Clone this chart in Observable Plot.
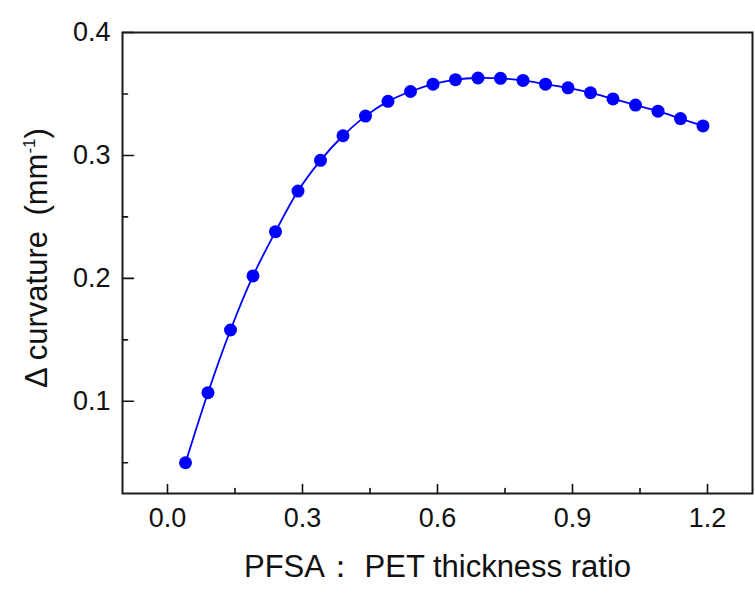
<!DOCTYPE html>
<html>
<head>
<meta charset="utf-8">
<script src="https://cdn.jsdelivr.net/npm/d3@7"></script>
<script src="https://cdn.jsdelivr.net/npm/@observablehq/plot@0.6"></script>
<style>
  html, body { margin: 0; padding: 0; background: #fff; }
</style>
</head>
<body>
<div id="chart"></div>
<script>
// ---- data ----
const ratio = [0.04, 0.09, 0.14, 0.19, 0.24, 0.29, 0.34, 0.39, 0.44, 0.49, 0.54, 0.59,
               0.64, 0.69, 0.74, 0.79, 0.84, 0.89, 0.94, 0.99, 1.04, 1.09, 1.14, 1.19];
const curvature = [0.050, 0.107, 0.158, 0.202, 0.238, 0.271, 0.296, 0.316, 0.332, 0.344, 0.352, 0.358,
                   0.3616, 0.363, 0.3627, 0.361, 0.358, 0.355, 0.351, 0.346, 0.341, 0.336, 0.330, 0.324];
const xMajorTicks = [0.0, 0.3, 0.6, 0.9, 1.2];
const xMinorTicks = [0.15, 0.45, 0.75, 1.05];
const yMajorTicks = [0.1, 0.2, 0.3, 0.4];
const yMinorTicks = [0.05, 0.15, 0.25, 0.35];
const xDomain = [-0.1, 1.3];
const yDomain = [0.025, 0.4];
const xTitle = "PFSA\uFF1A PET thickness ratio";
const yTitle = "\u0394 curvature\u2002(mm^-1)";

const data = ratio.map((r, i) => ({ratio: r, curvature: curvature[i]}));

const tickShape = {
  draw(context, l) { context.moveTo(0, 0); context.lineTo(0, -l); }
};
const ink = "#111";
const blue = "#0000ff";
const font = "Arial, 'Liberation Sans', sans-serif";

const chart = Plot.plot({
  width: 755,
  height: 594,
  marginLeft: 122,
  marginRight: 3,
  marginTop: 32,
  marginBottom: 101,
  style: {fontFamily: font, fontSize: "27px", color: ink, background: "#fff"},
  x: {domain: xDomain},
  y: {domain: yDomain},
  marks: [
    Plot.axisX(xMajorTicks, {tickSize: 0, tickPadding: 14, tickFormat: d3.format(".1f"), label: null, fill: ink, fontSize: 27}),
    Plot.axisY(yMajorTicks, {tickSize: 0, tickPadding: 12, tickFormat: d3.format(".1f"), label: null, fill: ink, fontSize: 27}),
    // inward ticks
    Plot.vector(xMajorTicks, {x: d => d, frameAnchor: "bottom", length: 9, rotate: 0, anchor: "start", shape: tickShape, stroke: ink, strokeWidth: 1.6, fill: "none"}),
    Plot.vector(xMinorTicks, {x: d => d, frameAnchor: "bottom", length: 5, rotate: 0, anchor: "start", shape: tickShape, stroke: ink, strokeWidth: 1.6, fill: "none"}),
    Plot.vector(yMajorTicks, {y: d => d, frameAnchor: "left", length: 11, rotate: 90, anchor: "start", shape: tickShape, stroke: ink, strokeWidth: 1.6, fill: "none"}),
    Plot.vector(yMinorTicks, {y: d => d, frameAnchor: "left", length: 5, rotate: 90, anchor: "start", shape: tickShape, stroke: ink, strokeWidth: 1.6, fill: "none"}),
    Plot.line(data, {x: "ratio", y: "curvature", stroke: blue, strokeWidth: 1.8, curve: "catmull-rom"}),
    Plot.dot(data, {x: "ratio", y: "curvature", r: 6.5, fill: blue, stroke: "none"}),
    Plot.frame({stroke: "#1a1a1a", strokeWidth: 2}),
    Plot.text([xTitle], {frameAnchor: "bottom", textAnchor: "middle", lineAnchor: "bottom", dy: 83, fontSize: 31, fill: ink}),
    Plot.text([yTitle], {frameAnchor: "left", textAnchor: "middle", lineAnchor: "bottom", rotate: -90, dx: -76, dy: -5, fontSize: 31, fill: ink})
  ]
});

// superscript for the unit
chart.querySelectorAll("text").forEach(t => {
  if (t.textContent.includes("(mm^-1)")) {
    const ns = "http://www.w3.org/2000/svg";
    const before = t.textContent.split("^-1")[0];
    t.textContent = "";
    const a = document.createElementNS(ns, "tspan"); a.textContent = before; t.appendChild(a);
    const s = document.createElementNS(ns, "tspan"); s.textContent = "-1";
    s.setAttribute("font-size", "17"); s.setAttribute("dy", "-12"); t.appendChild(s);
    const c = document.createElementNS(ns, "tspan"); c.textContent = ")"; c.setAttribute("dy", "12"); t.appendChild(c);
  }
});

document.getElementById("chart").appendChild(chart);
</script>
</body>
</html>
